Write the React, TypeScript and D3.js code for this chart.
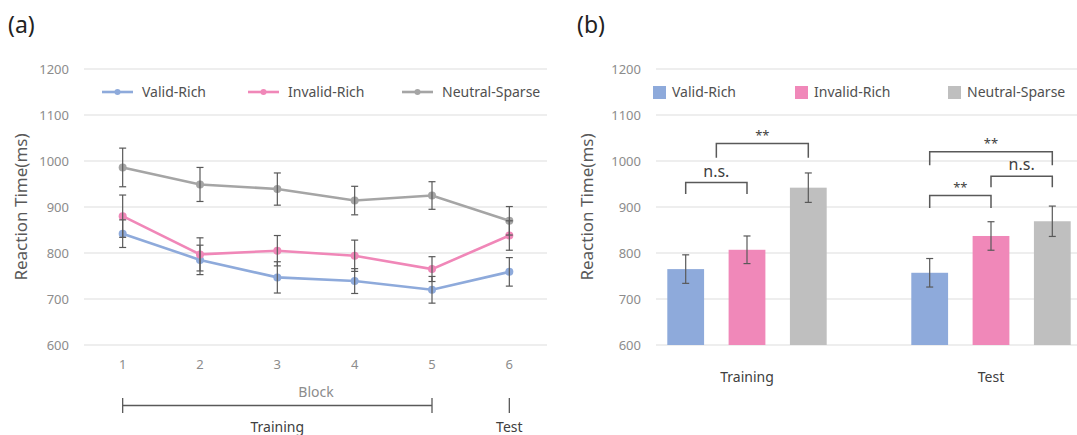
import React from "react";
import * as d3 from "d3";

// panel (a): RT per block
const blocks = [1, 2, 3, 4, 5, 6];
const seriesNames = ["Valid-Rich", "Invalid-Rich", "Neutral-Sparse"];
const validRich = [842, 785, 747, 739, 720, 759];
const validRichErr = [30, 32, 34, 27, 29, 31];
const invalidRich = [880, 797, 805, 794, 765, 838];
const invalidRichErr = [46, 36, 33, 34, 27, 32];
const neutralSparse = [986, 949, 939, 914, 925, 870];
const neutralSparseErr = [42, 37, 35, 31, 30, 31];

// panel (b): RT per phase
const phases = ["Training", "Test"];
const barValid = [765, 757];
const barValidErr = [31, 31];
const barInvalid = [807, 837];
const barInvalidErr = [30, 31];
const barNeutral = [942, 869];
const barNeutralErr = [32, 33];

const yTicks = [600, 700, 800, 900, 1000, 1100, 1200];

// significance brackets: series index positions, bracket height (ms), tick bottom (ms)
const sigPhase = ["Training", "Training", "Test", "Test", "Test"];
const sigFrom = [0, 0.5, 0, 0, 1];
const sigTo = [1, 2, 2, 1, 2];
const sigTop = [953, 1038, 1020, 925, 967];
const sigBottom = [928, 1007, 991, 898, 943];
const sigLabel = ["n.s.", "**", "**", "**", "n.s."];

const lineColors = ["#8eaadb", "#f087b8", "#a5a5a5"];
const barColors = ["#8eaadb", "#f088b9", "#bfbfbf"];
const errColor = "#595959";
const gridColor = "#e8e8e8";
const font = "'Noto Sans', 'DejaVu Sans', sans-serif";

const y = d3.scaleLinear().domain([600, 1200]).range([345, 69]);

function LinePanel() {
  const x = d3.scalePoint<number>().domain(blocks).range([84, 548]).padding(0.5);
  const lineData = [
    { values: validRich, errs: validRichErr },
    { values: invalidRich, errs: invalidRichErr },
    { values: neutralSparse, errs: neutralSparseErr },
  ];
  const line = d3.line<number>().x((_, i) => x(blocks[i]) as number).y(d => y(d));
  const legendX = [102, 248, 402];

  return (
    <g fontFamily={font}>
      <text x={8} y={33} fontSize={23} fill="#222">(a)</text>
      {yTicks.map(t => (
        <g key={t}>
          <line x1={84} x2={547} y1={y(t)} y2={y(t)} stroke={gridColor} strokeWidth={1.3} />
          <text x={69} y={y(t) + 4.5} textAnchor="end" fontSize={13} fill="#8c8c8c">{t}</text>
        </g>
      ))}
      <text transform="translate(27,207) rotate(-90)" textAnchor="middle" fontSize={17} fill="#595959">
        Reaction Time(ms)
      </text>
      {blocks.map(b => (
        <text key={b} x={x(b)} y={369} textAnchor="middle" fontSize={13} fill="#8c8c8c">{b}</text>
      ))}
      <text x={316} y={397} textAnchor="middle" fontSize={14} fill="#8c8c8c">Block</text>
      <g stroke="#595959" strokeWidth={1.3}>
        <line x1={x(1)} x2={x(5)} y1={405.5} y2={405.5} />
        <line x1={x(1)} x2={x(1)} y1={398} y2={413} />
        <line x1={x(5)} x2={x(5)} y1={398} y2={413} />
        <line x1={x(6)} x2={x(6)} y1={398} y2={413} />
      </g>
      <text x={((x(1) as number) + (x(5) as number)) / 2} y={432} textAnchor="middle" fontSize={14} fill="#404040">Training</text>
      <text x={x(6)} y={432} textAnchor="middle" fontSize={14} fill="#404040">Test</text>

      {lineData.map((s, si) => (
        <g key={si}>
          <path d={line(s.values) || ""} fill="none" stroke={lineColors[si]} strokeWidth={2.6} />
          {s.values.map((v, i) => (
            <circle key={i} cx={x(blocks[i])} cy={y(v)} r={4} fill={lineColors[si]} />
          ))}
        </g>
      ))}
      {lineData.map((s, si) => (
        <g key={"e" + si} stroke={errColor} strokeWidth={1.2}>
          {s.values.map((v, i) => {
            const cx = x(blocks[i]) as number;
            return (
              <g key={i}>
                <line x1={cx} x2={cx} y1={y(v + s.errs[i])} y2={y(v - s.errs[i])} />
                <line x1={cx - 3.5} x2={cx + 3.5} y1={y(v + s.errs[i])} y2={y(v + s.errs[i])} />
                <line x1={cx - 3.5} x2={cx + 3.5} y1={y(v - s.errs[i])} y2={y(v - s.errs[i])} />
              </g>
            );
          })}
        </g>
      ))}

      {seriesNames.map((n, i) => (
        <g key={n} transform={`translate(${legendX[i]},92)`}>
          <line x1={0} x2={31} y1={0} y2={0} stroke={lineColors[i]} strokeWidth={2.6} />
          <circle cx={15.5} cy={0} r={3} fill={lineColors[i]} />
          <text x={40} y={5} fontSize={14} fill="#505050">{n}</text>
        </g>
      ))}
    </g>
  );
}

function BarPanel() {
  const x0 = d3.scaleBand().domain(phases).range([625, 1113]);
  const x1 = d3.scaleBand<number>().domain([0, 1, 2]).range([0, x0.bandwidth()])
    .paddingInner(0.4).paddingOuter(0.69);
  const barData = [
    { values: barValid, errs: barValidErr },
    { values: barInvalid, errs: barInvalidErr },
    { values: barNeutral, errs: barNeutralErr },
  ];
  const center = (phase: string, pos: number) =>
    (x0(phase) as number) + (x1(0) as number) + x1.bandwidth() / 2 + pos * x1.step();
  const legendX = [653, 795, 948];

  return (
    <g fontFamily={font}>
      <text x={577} y={33} fontSize={23} fill="#222">(b)</text>
      {yTicks.map(t => (
        <g key={t}>
          <line x1={656} x2={1077} y1={y(t)} y2={y(t)} stroke={gridColor} strokeWidth={1.3} />
          <text x={641} y={y(t) + 4.5} textAnchor="end" fontSize={13} fill="#8c8c8c">{t}</text>
        </g>
      ))}
      <text transform="translate(593,207) rotate(-90)" textAnchor="middle" fontSize={17} fill="#595959">
        Reaction Time(ms)
      </text>
      {phases.map(p => (
        <text key={p} x={(x0(p) as number) + x0.bandwidth() / 2} y={382} textAnchor="middle" fontSize={14} fill="#404040">{p}</text>
      ))}
      {barData.map((s, si) => (
        <g key={si}>
          {phases.map((p, pi) => {
            const bx = (x0(p) as number) + (x1(si) as number);
            const cx = bx + x1.bandwidth() / 2;
            const v = s.values[pi];
            const e = s.errs[pi];
            return (
              <g key={p}>
                <rect x={bx} y={y(v)} width={x1.bandwidth()} height={y(600) - y(v)} fill={barColors[si]} />
                <g stroke={errColor} strokeWidth={1.2}>
                  <line x1={cx} x2={cx} y1={y(v + e)} y2={y(v - e)} />
                  <line x1={cx - 3.5} x2={cx + 3.5} y1={y(v + e)} y2={y(v + e)} />
                  <line x1={cx - 3.5} x2={cx + 3.5} y1={y(v - e)} y2={y(v - e)} />
                </g>
              </g>
            );
          })}
        </g>
      ))}
      {sigLabel.map((lab, i) => {
        const xa = center(sigPhase[i], sigFrom[i]);
        const xb = center(sigPhase[i], sigTo[i]);
        const top = y(sigTop[i]);
        const bot = y(sigBottom[i]);
        const ns = lab === "n.s.";
        return (
          <g key={i}>
            <path d={`M${xa},${bot}V${top}H${xb}V${bot}`} fill="none" stroke="#595959" strokeWidth={1.5} />
            <text x={(xa + xb) / 2} y={ns ? top - 6 : top - 4} textAnchor="middle"
              fontSize={ns ? 16 : 13} fill="#404040">{lab}</text>
          </g>
        );
      })}
      {seriesNames.map((n, i) => (
        <g key={n} transform={`translate(${legendX[i]},92)`}>
          <rect x={0} y={-6} width={13} height={13} fill={barColors[i]} />
          <text x={19} y={5} fontSize={14} fill="#505050">{n}</text>
        </g>
      ))}
    </g>
  );
}

export default function App() {
  return (
    <svg width={1077} height={435} style={{ position: "absolute", left: 0, top: 0, background: "#fff" }}>
      <LinePanel />
      <BarPanel />
    </svg>
  );
}
